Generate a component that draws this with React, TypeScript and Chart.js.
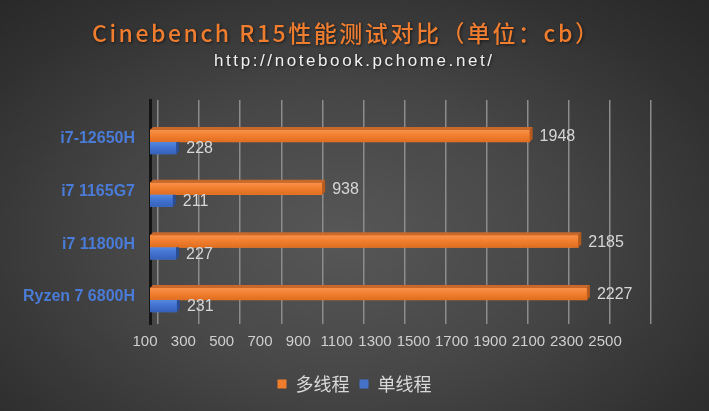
import React, { useEffect, useRef } from "react";
import { Chart, registerables } from "chart.js";

Chart.register(...registerables);

const categories = ["i7-12650H", "i7 1165G7", "i7 11800H", "Ryzen 7 6800H"];
const multiThread = [1948, 938, 2185, 2227];
const singleThread = [228, 211, 227, 231];
const seriesNames = ["多线程", "单线程"];
const tickValues = [100, 300, 500, 700, 900, 1100, 1300, 1500, 1700, 1900, 2100, 2300, 2500];
const titleText = "Cinebench R15性能测试对比（单位：cb）";
const subtitleText = "http://notebook.pchome.net/";

const palettes = [
  { light: "#f8924a", mid: "#f27f2f", dark: "#e06e20", top: "#c9682a", side: "#b85a1c", legend: "#f07c2c" },
  { light: "#5588e0", mid: "#4273d0", dark: "#3561bb", top: "#2f56a3", side: "#2a4d94", legend: "#4472c9" },
];

const bar3d = {
  id: "bar3d",
  afterDatasetsDraw(chart: any) {
    const ctx = chart.ctx as CanvasRenderingContext2D;
    const d = 3;
    chart.data.datasets.forEach((ds: any, di: number) => {
      const meta = chart.getDatasetMeta(di);
      const pal = palettes[di];
      meta.data.forEach((el: any, i: number) => {
        const { x, y, base, height } = el.getProps(["x", "y", "base", "height"], true);
        const top = y - height / 2;
        const bottom = y + height / 2;
        const left = Math.min(x, base);
        const right = Math.max(x, base);
        ctx.save();
        const g = ctx.createLinearGradient(0, top, 0, bottom);
        g.addColorStop(0, pal.light);
        g.addColorStop(0.45, pal.mid);
        g.addColorStop(1, pal.dark);
        ctx.fillStyle = g;
        ctx.fillRect(left, top, right - left, bottom - top);
        if (di === 0) {
          ctx.fillStyle = pal.top;
          ctx.beginPath();
          ctx.moveTo(left, top);
          ctx.lineTo(left + d, top - d);
          ctx.lineTo(right + d, top - d);
          ctx.lineTo(right, top);
          ctx.closePath();
          ctx.fill();
        }
        ctx.fillStyle = pal.side;
        ctx.beginPath();
        ctx.moveTo(right, top);
        ctx.lineTo(right + d, di === 0 ? top - d : top);
        ctx.lineTo(right + d, bottom - d);
        ctx.lineTo(right, bottom);
        ctx.closePath();
        ctx.fill();
        ctx.fillStyle = "#d6d6d6";
        ctx.font = '16px "Liberation Sans", sans-serif';
        ctx.textAlign = "left";
        ctx.textBaseline = "middle";
        ctx.fillText(String(ds.data[i].x), right + 10, y + 1);
        ctx.restore();
      });
    });
  },
};

const titlePlugin = {
  id: "titles",
  afterDraw(chart: any) {
    const ctx = chart.ctx as any;
    const drawSpaced = (text: string, font: string, color: string, left: number, cy: number, targetW: number) => {
      ctx.save();
      ctx.font = font;
      ctx.letterSpacing = "0px";
      const w0 = ctx.measureText(text).width;
      const n = Array.from(text).length;
      const ls = (targetW - w0) / (n - 1);
      ctx.letterSpacing = ls + "px";
      ctx.textAlign = "left";
      ctx.textBaseline = "middle";
      ctx.fillStyle = color;
      ctx.shadowColor = "rgba(0,0,0,0.6)";
      ctx.shadowBlur = 3;
      ctx.shadowOffsetX = 1;
      ctx.shadowOffsetY = 1;
      ctx.fillText(text, left, cy);
      ctx.restore();
    };
    drawSpaced(titleText, '500 23px "Noto Sans CJK SC", sans-serif', "#ef7d30", 92, 33, 506);
    drawSpaced(subtitleText, '17px "Liberation Sans", sans-serif', "#f0f0f0", 214, 61, 278);
  },
};

export default function App() {
  const ref = useRef<HTMLCanvasElement>(null);
  useEffect(() => {
    document.body.style.margin = "0";
    const fixedTicks = (vals: number[]) => (s: any) => {
      s.ticks = vals.map((v) => ({ value: v }));
    };
    const chart = new Chart(ref.current as HTMLCanvasElement, {
      type: "bar",
      data: {
        datasets: [
          {
            label: seriesNames[0],
            data: multiThread.map((v, i) => ({ x: v, y: i })),
            backgroundColor: palettes[0].legend,
            borderWidth: 0,
            base: 100,
            barThickness: 12,
          },
          {
            label: seriesNames[1],
            data: singleThread.map((v, i) => ({ x: v, y: i })),
            backgroundColor: palettes[1].legend,
            borderWidth: 0,
            base: 100,
            barThickness: 12,
          },
        ],
      } as any,
      options: {
        indexAxis: "y",
        responsive: false,
        animation: false,
        layout: { padding: { top: 100, right: 0, bottom: 8, left: 0 } },
        plugins: {
          legend: {
            position: "bottom",
            labels: {
              color: "#d9d9d9",
              font: { family: '"Noto Sans CJK SC", sans-serif', size: 18 },
              boxWidth: 9,
              boxHeight: 9,
              padding: 10,
            },
          },
          tooltip: { enabled: false },
          title: { display: false },
        },
        scales: {
          x: { type: "linear", display: false, min: 100, max: 2500 },
          xg: {
            type: "linear",
            position: "bottom",
            min: 61,
            max: 2461,
            afterBuildTicks: fixedTicks(tickValues),
            ticks: { display: false },
            grid: { color: "#8c8c8c", lineWidth: 1.5, drawTicks: false },
            border: { display: false },
            afterFit: (s: any) => {
              s.height = 0;
              s.paddingLeft = 0;
              s.paddingRight = 0;
            },
          },
          xl: {
            type: "linear",
            position: "bottom",
            min: 126,
            max: 2698,
            afterBuildTicks: fixedTicks(tickValues),
            ticks: {
              color: "#cfcfcf",
              font: { family: '"Liberation Sans", sans-serif', size: 15 },
              padding: 9,
              maxRotation: 0,
              autoSkip: false,
              callback: (v: any) => String(v),
            },
            grid: { display: false, drawTicks: false },
            border: { display: false },
            afterFit: (s: any) => {
              s.height = 41;
              s.paddingLeft = 0;
              s.paddingRight = 0;
            },
          },
          y: {
            type: "linear",
            reverse: true,
            offset: false,
            bounds: "data",
            min: -0.797,
            max: 3.456,
            afterBuildTicks: fixedTicks(categories.map((_, i) => i)),
            ticks: {
              color: "#4a7bd6",
              font: { family: '"Liberation Sans", sans-serif', size: 16, weight: "bold" },
              padding: 15,
              labelOffset: -3,
              autoSkip: false,
              callback: (v: any) => categories[v as number],
            },
            grid: { display: false, drawTicks: false, offset: false },
            border: { color: "#141414", width: 3 },
            afterFit: (s: any) => {
              s.width = 150;
            },
          },
          yr: {
            type: "linear",
            position: "right",
            min: 0,
            max: 1,
            ticks: { display: false },
            grid: { display: false, drawTicks: false },
            border: { display: false },
            afterFit: (s: any) => {
              s.width = 66;
            },
          },
        },
      } as any,
      plugins: [bar3d, titlePlugin],
    });
    return () => chart.destroy();
  }, []);

  return (
    <div
      style={{
        position: "absolute",
        left: 0,
        top: 0,
        width: 709,
        height: 411,
        background:
          "radial-gradient(ellipse 75% 85% at 48% 58%, #575757 0%, #474747 40%, #2f2f2f 80%, #262626 100%)",
      }}
    >
      <canvas ref={ref} width={709} height={411} style={{ display: "block" }} />
    </div>
  );
}
